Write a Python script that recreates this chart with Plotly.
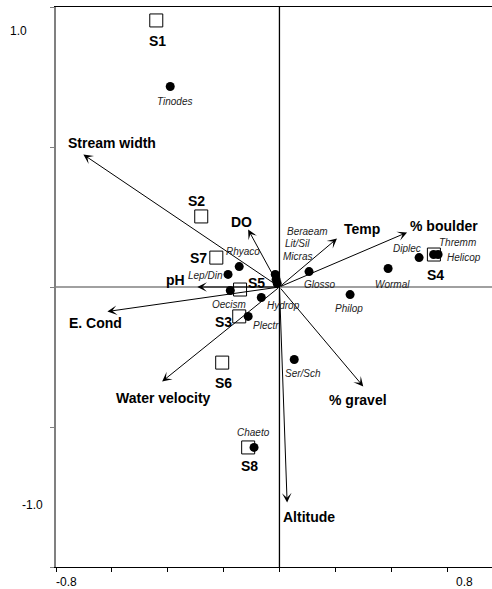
import plotly.graph_objects as go

# ---- data ----
site_names = ["S1", "S2", "S7", "S5", "S3", "S6", "S8", "S4"]
site_x = [-0.441, -0.280, -0.226, -0.141, -0.144, -0.205, -0.112, 0.553]
site_y = [0.952, 0.252, 0.105, -0.009, -0.105, -0.270, -0.573, 0.116]

species_names = ["Tinodes", "Rhyaco", "Lep/Din", "Oecism", "Hydrop", "Plectr",
                 "Ser/Sch", "Chaeto", "Glosso", "Beraeam", "Lit/Sil", "Micras",
                 "Wormal", "Philop", "Diplec", "Thremm", "Helicop"]
species_x = [-0.391, -0.144, -0.184, -0.176, -0.065, -0.112,
             0.053, -0.091, 0.106, -0.015, -0.012, -0.008,
             0.389, 0.253, 0.500, 0.552, 0.568]
species_y = [0.716, 0.073, 0.045, -0.0125, -0.0375, -0.105,
             -0.259, -0.573, 0.055, 0.045, 0.027, 0.0125,
             0.066, -0.027, 0.105, 0.116, 0.116]

env_names = ["Stream width", "DO", "pH", "E. Cond", "Water velocity",
             "Altitude", "% gravel", "% boulder", "Temp"]
env_x = [-0.702, -0.112, -0.294, -0.616, -0.420, 0.0275, 0.300, 0.457, 0.206]
env_y = [0.473, 0.205, 0.0, -0.0875, -0.3375, -0.770, -0.355, 0.195, 0.173]

x_ticks = [-0.8, -0.6, -0.4, -0.2, 0.0, 0.2, 0.4, 0.6]
y_ticks = [-1.0, -0.5, 0.0, 0.5, 1.0]
range_labels = ["1.0", "-1.0", "-0.8", "0.8"]

# ---- label offsets / positions (pixels or paper, style only) ----
site_off = [(1, 21), (-5, -15), (-18, 0), (16, -7), (-16, 6), (1, 20), (1, 19), (2, 20)]
species_off = [(5, 15), (4, -15), (-23, 1), (-1, 14), (22, 8), (18, 9),
               (9, 14), (-1, -15), (11, 13), (32, -43), (21, -36), (20, -27),
               (4, 16), (-1, 14), (-12, -9), (24, -12), (26, 3)]
env_off = [(29, -12), (-7, -8), (-22, -7), (-12, 11), (1, 16), (22, 14),
           (-5, 14), (37, -6), (25, -10)]
range_label_pos = [(-0.087, 0.957), (-0.055, 0.111), (0.025, -0.027), (0.938, -0.027)]

FONT = "Arial, Liberation Sans, sans-serif"

fig = go.Figure()

fig.add_trace(go.Scatter(
    x=species_x, y=species_y, mode="markers",
    marker=dict(symbol="circle", size=9, color="black"),
    hoverinfo="text", text=species_names, showlegend=False, cliponaxis=False))

fig.add_trace(go.Scatter(
    x=site_x, y=site_y, mode="markers",
    marker=dict(symbol="square-open", size=13, color="black", line=dict(width=1)),
    hoverinfo="text", text=site_names, showlegend=False, cliponaxis=False))

annotations = []
# environmental arrows
for n, x, y in zip(env_names, env_x, env_y):
    annotations.append(dict(
        x=x, y=y, ax=0, ay=0, xref="x", yref="y", axref="x", ayref="y",
        text="", showarrow=True, arrowhead=3, arrowsize=1.6, arrowwidth=1,
        arrowcolor="black"))
for n, x, y, (dx, dy) in zip(env_names, env_x, env_y, env_off):
    annotations.append(dict(
        x=x, y=y, xref="x", yref="y", text="<b>%s</b>" % n, showarrow=False,
        xshift=dx, yshift=-dy, xanchor="center", yanchor="middle",
        font=dict(family=FONT, size=14, color="black")))
for n, x, y, (dx, dy) in zip(site_names, site_x, site_y, site_off):
    annotations.append(dict(
        x=x, y=y, xref="x", yref="y", text="<b>%s</b>" % n, showarrow=False,
        xshift=dx, yshift=-dy, xanchor="center", yanchor="middle",
        font=dict(family=FONT, size=14, color="black")))
for n, x, y, (dx, dy) in zip(species_names, species_x, species_y, species_off):
    annotations.append(dict(
        x=x, y=y, xref="x", yref="y", text="<i>%s</i>" % n, showarrow=False,
        xshift=dx, yshift=-dy, xanchor="center", yanchor="middle",
        font=dict(family=FONT, size=10, color="#222222")))

# axis range labels
for txt, (px, py) in zip(range_labels, range_label_pos):
    annotations.append(dict(
        x=px, y=py, xref="paper", yref="paper", text=txt, showarrow=False,
        xanchor="center", yanchor="middle",
        font=dict(family=FONT, size=12, color="black")))

shapes = [
    dict(type="line", xref="x", yref="y", x0=0, x1=0, y0=-1.0, y1=1.0,
         line=dict(color="black", width=1.3), layer="below"),
    dict(type="line", xref="paper", yref="y", x0=0, x1=1, y0=0, y1=0,
         line=dict(color="#808080", width=1.6), layer="below"),
]

fig.update_layout(
    width=492, height=589,
    margin=dict(l=56, r=0, t=7, b=22),
    paper_bgcolor="white", plot_bgcolor="white",
    showlegend=False,
    annotations=annotations, shapes=shapes,
    xaxis=dict(range=[-0.8, 0.761], tickvals=x_ticks, showticklabels=False,
               ticks="outside", ticklen=4, tickcolor="black",
               showline=True, linecolor="black", linewidth=1.3, mirror=True,
               showgrid=False, zeroline=False, fixedrange=True),
    yaxis=dict(range=[-1.0, 1.0], tickvals=y_ticks, showticklabels=False,
               ticks="outside", ticklen=4, tickcolor="#808080",
               showline=True, linecolor="#808080", linewidth=1.6,
               showgrid=False, zeroline=False, fixedrange=True),
)

fig.write_html(
    "out.html",
    config={"displayModeBar": False},
    post_script="document.body.style.margin='0';document.body.style.overflow='hidden';",
)
